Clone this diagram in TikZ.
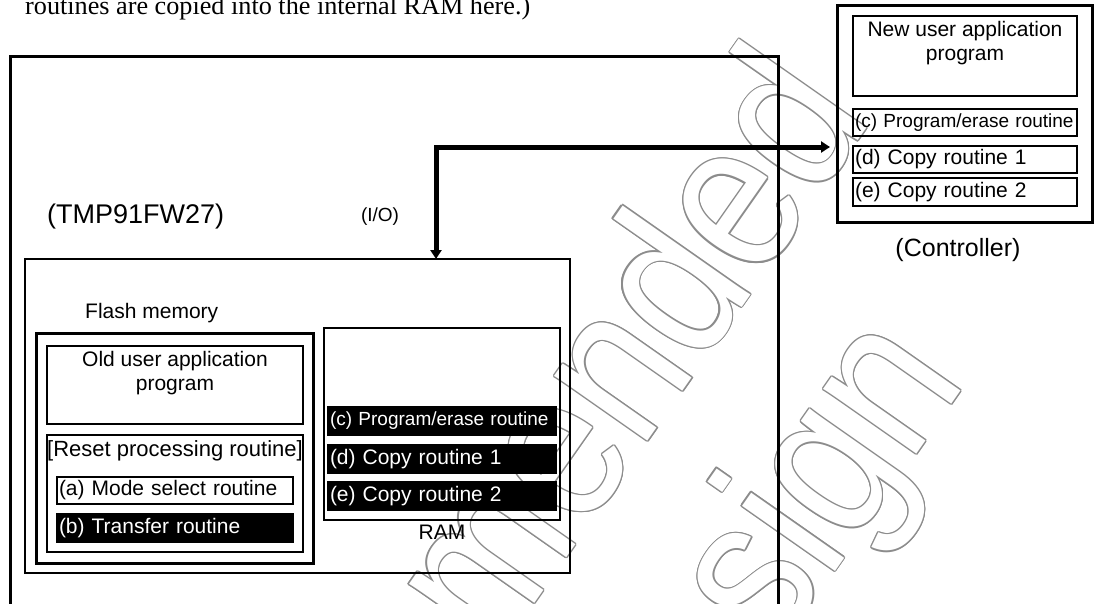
\documentclass[tikz,border=0pt]{standalone}
\usepackage{fontspec}
\setmainfont{Liberation Sans}
\newfontfamily\topserif{Liberation Serif}
\usetikzlibrary{arrows.meta,calc}
\begin{document}
\begin{tikzpicture}[x=1pt,y=-1pt,
  thickbox/.style={draw=black, line width=3pt, inner sep=0pt, outer sep=0pt},
  thinbox/.style={draw=black, line width=1.8pt, inner sep=0pt, outer sep=0pt},
  blkbox/.style={draw=black, fill=black, text=white, line width=1.5pt, inner sep=0pt, outer sep=0pt},
  lbl/.style={font=\fontsize{21}{24}\selectfont, inner sep=0pt},
  lblc/.style={font=\fontsize{19}{22}\selectfont, inner sep=0pt},
  rowtext/.style={align=left, inner xsep=2pt, inner ysep=0pt},
  conn/.style={line width=5pt, line join=miter, {Triangle[length=9pt,width=11pt]}-{Triangle[length=9pt,width=11pt]}},
  wmark/.style={font=\fontsize{215}{215}\selectfont, inner sep=0pt, anchor=base west, rotate=55}
]
\useasboundingbox (0,0) rectangle (1096,603);
\clip (0,0) rectangle (1096,603);

% watermark (outlined text, behind the diagram)
\coordinate (wmo1) at (-29,1408);
\coordinate (wmo2) at (251.5,1404.5);
\foreach \ang in {0,30,...,330} {
  \node[wmark, text=black!45] at ($(wmo1)+(\ang:1.3pt)$) {\scalebox{0.85}[1]{Not Recommended}};
  \node[wmark, text=black!45] at ($(wmo2)+(\ang:1.3pt)$) {\scalebox{0.85}[1]{for New Design}};
}
\node[wmark, text=white] (wm1) at (wmo1) {\scalebox{0.85}[1]{Not Recommended}};
\node[wmark, text=white] (wm2) at (wmo2) {\scalebox{0.85}[1]{for New Design}};

% top text (cut off)
\node[anchor=base west, inner sep=0pt, font=\topserif\fontsize{26}{28}\selectfont] (toptext) at (25,14)
  {\resizebox{505pt}{\height}{routines are copied into the internal RAM here.)}};

% outer TMP91FW27 box (extends below the picture)
\node[thickbox, anchor=north west, minimum width=768pt, minimum height=620pt] (outer) at (10,56.5) {};

% controller
\node[thickbox, minimum width=255pt, minimum height=217pt] (ctrl) at (964.5,113.5) {};
\node[thinbox, minimum width=224pt, minimum height=80pt] (newapp) at (965,56) {};
\node[lbl, anchor=north, align=center] (newapptext) at (965,21) {New user application\\program};
\node[thinbox, lblc, rowtext, text width=220pt, minimum height=27pt] (cc) at (965,122.5) {(c) Program/erase routine};
\node[thinbox, lbl, rowtext, text width=220pt, minimum height=27pt] (cd) at (965,159.5) {(d) Copy routine 1};
\node[thinbox, lbl, rowtext, text width=220pt, minimum height=28pt] (ce) at (965,192) {(e) Copy routine 2};
\node[font=\fontsize{25}{28}\selectfont, inner sep=0pt] (ctrllabel) at (958,250) {(Controller)};

% labels
\node[font=\fontsize{27}{30}\selectfont, inner sep=0pt, anchor=west] (tmp) at (47,217) {(TMP91FW27)};
\node[font=\fontsize{19}{22}\selectfont, inner sep=0pt] (io) at (380,217) {(I/O)};

% chip
\node[thinbox, minimum width=545pt, minimum height=314pt] (chip) at (297.5,416) {};
\node[lbl, anchor=west] (flashlabel) at (85,313) {Flash memory};

% flash memory
\node[thickbox, minimum width=277pt, minimum height=230pt] (flash) at (174.5,448) {};
\node[thinbox, minimum width=256pt, minimum height=78pt] (old) at (175,385) {};
\node[lbl, anchor=north, align=center] (oldtext) at (175,351) {Old user application\\program};
\node[thinbox, minimum width=256pt, minimum height=117pt] (reset) at (175,493.5) {};
\node[font=\fontsize{22}{24}\selectfont, inner sep=0pt, anchor=north] (resettext) at (175,440) {[Reset processing routine]};
\node[thinbox, lbl, rowtext, line width=1.5pt, text width=232pt, minimum height=27pt] (ra) at (175,490.5) {(a) Mode select routine};
\node[blkbox, lbl, rowtext, text width=232pt, minimum height=28pt] (rb) at (175,528) {(b) Transfer routine};

% RAM
\node[thinbox, minimum width=236pt, minimum height=192pt] (ram) at (442,424) {};
\node[blkbox, lblc, rowtext, text width=224pt, minimum height=28pt] (rc) at (442,421) {(c) Program/erase routine};
\node[blkbox, lbl, rowtext, text width=224pt, minimum height=28pt] (rd) at (442,459) {(d) Copy routine 1};
\node[blkbox, lbl, rowtext, text width=224pt, minimum height=28pt] (re) at (442,496) {(e) Copy routine 2};
\node[lbl] (ramlabel) at (442,532) {RAM};

% I/O connector
\coordinate (iocorner) at (436,147);
\draw[conn, shorten >=7pt] (iocorner |- chip.north) -- (iocorner) -- (iocorner -| ctrl.west);
\end{tikzpicture}
\end{document}
